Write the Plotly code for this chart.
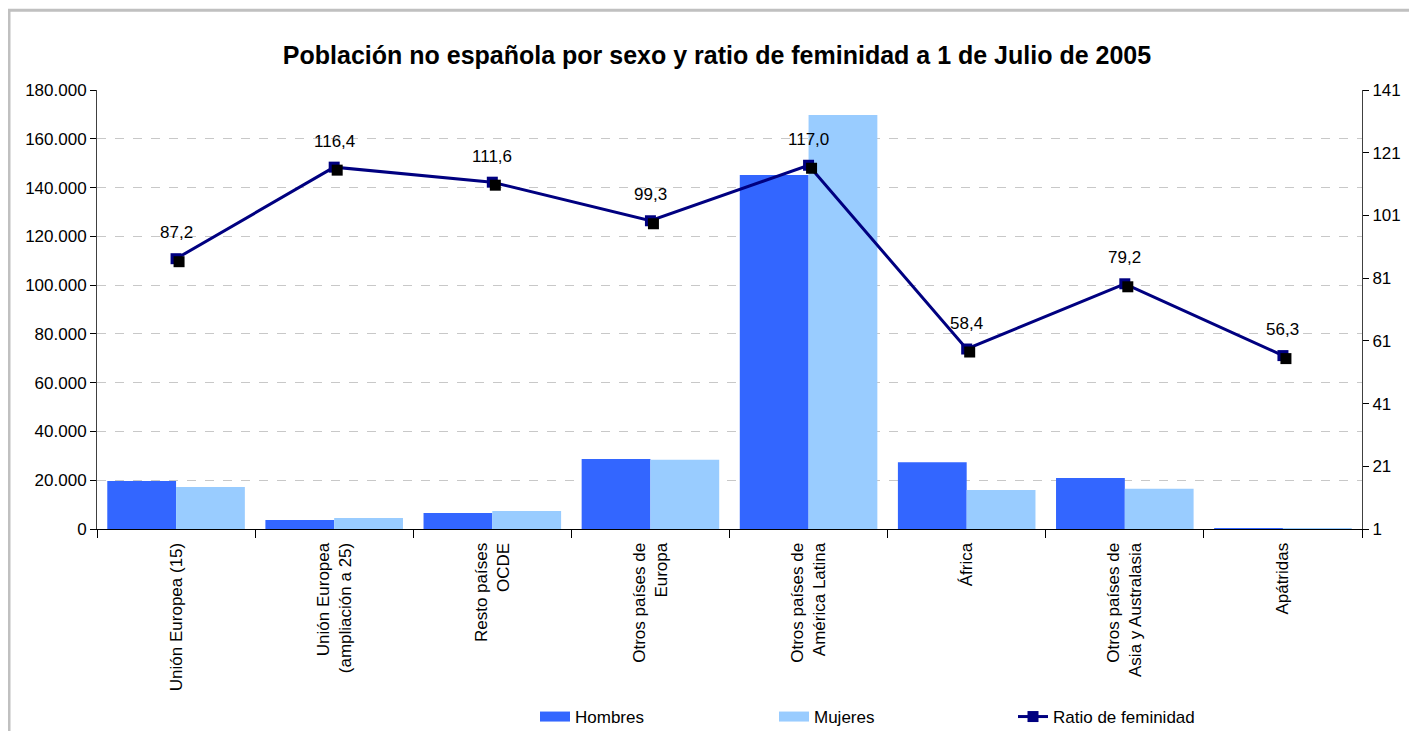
import plotly.graph_objects as go

categories = [
    "Unión Europea (15)",
    "Unión Europea<br>(ampliación a 25)",
    "Resto países<br>OCDE",
    "Otros países de<br>Europa",
    "Otros países de<br>América Latina",
    "África",
    "Otros países de<br>Asia y Australasia",
    "Apátridas",
]
hombres = [19700, 3700, 6600, 28700, 145100, 27400, 20900, 160]
mujeres = [17200, 4500, 7400, 28400, 169800, 16000, 16500, 90]
ratio = [87.2, 116.4, 111.6, 99.3, 117.0, 58.4, 79.2, 56.3]
left_ticks = [0, 20000, 40000, 60000, 80000, 100000, 120000, 140000, 160000, 180000]
right_ticks = [1, 21, 41, 61, 81, 101, 121, 141]

FONT = "Liberation Sans, Arial, sans-serif"
# page has an 8px body margin; figure coordinates are page minus 8
W, H = 1409, 723
ML, MR, MT, MB = 89, 55, 82, 202
PW, PH = W - ML - MR, H - MT - MB
BLUE, LIGHT, NAVY = "#3366FF", "#99CCFF", "#000080"

fig = go.Figure()
fig.add_trace(go.Bar(x=categories, y=hombres, name="Hombres", marker_color=BLUE,
                     marker_line_width=0, showlegend=False))
fig.add_trace(go.Bar(x=categories, y=mujeres, name="Mujeres", marker_color=LIGHT,
                     marker_line_width=0, showlegend=False))
# marker shadow on an offset overlay axis
fig.add_trace(go.Scatter(x=categories, y=ratio, mode="markers", xaxis="x3", yaxis="y3",
                         marker=dict(symbol="square", size=11, color="black"),
                         showlegend=False, hoverinfo="skip"))
fig.add_trace(go.Scatter(x=categories, y=ratio, name="Ratio de feminidad", yaxis="y2",
                         mode="lines+markers", showlegend=False,
                         line=dict(color=NAVY, width=3),
                         marker=dict(symbol="square", size=11, color=NAVY)))

# legend entries (rectangular swatches like the original)
fig.add_trace(go.Scatter(x=[None], y=[None], mode="lines", name="Hombres",
                         line=dict(color=BLUE, width=14)))
fig.add_trace(go.Scatter(x=[None], y=[None], mode="lines", name="Mujeres",
                         line=dict(color=LIGHT, width=14)))
fig.add_trace(go.Scatter(x=[None], y=[None], mode="lines+markers", name="Ratio de feminidad",
                         line=dict(color=NAVY, width=3),
                         marker=dict(symbol="square", size=11, color=NAVY)))

for c, r in zip(categories, ratio):
    fig.add_annotation(x=c, y=r, xref="x", yref="y2", text=f"{r:.1f}".replace(".", ","),
                       showarrow=False, yshift=26, font=dict(size=17, color="black", family=FONT))

# frame
fig.add_shape(type="rect", xref="paper", yref="paper",
              x0=(1 - ML) / PW, x1=(1440 - ML) / PW,
              y0=(MT + PH - 760) / PH, y1=1 + (MT - 2.3) / PH,
              line=dict(color="#C0C0C0", width=3), layer="below")

dx = 3 / PW * 8
dy = 3 / PH * 140
fig.update_layout(
    width=W, height=H,
    margin=dict(l=ML, r=MR, t=MT, b=MB, autoexpand=False),
    paper_bgcolor="white", plot_bgcolor="white",
    separators=",.",
    font=dict(family=FONT, size=17, color="black"),
    title=dict(text="<b>Población no española por sexo y ratio de feminidad a 1 de Julio de 2005</b>",
               font=dict(size=25, family=FONT, color="black"),
               x=(709 - ML) / PW, xref="paper", xanchor="center",
               y=1 - 47 / H, yref="container", yanchor="middle"),
    barmode="group", bargap=0.13, bargroupgap=0,
    xaxis=dict(type="category", tickson="boundaries", ticks="outside", ticklen=8,
               tickcolor="black", showline=True, linecolor="black", linewidth=1,
               tickangle=-90, tickfont=dict(size=17), showgrid=False,
               ticklabelstandoff=6, range=[-0.5, 7.5]),
    yaxis=dict(range=[0, 180000], tickvals=left_ticks, tickformat=",d", showline=True,
               linecolor="#404040", linewidth=1, ticks="outside", ticklen=6, tickcolor="black",
               showgrid=True, gridcolor="#C8C8C8", griddash="dash", gridwidth=1,
               zeroline=False, tickfont=dict(size=17)),
    yaxis2=dict(range=[1, 141], tickvals=right_ticks, overlaying="y", side="right",
                showline=True, linecolor="#404040", linewidth=1, ticks="outside", ticklen=6,
                tickcolor="black", showgrid=False, zeroline=False, tickfont=dict(size=17)),
    xaxis3=dict(type="category", overlaying="x", range=[-0.5 - dx, 7.5 - dx], visible=False,
                categoryorder="array", categoryarray=categories),
    yaxis3=dict(overlaying="y", range=[1 + dy, 141 + dy], visible=False),
    legend=dict(orientation="h", x=(527 - ML) / PW, xanchor="left",
                y=(MT + PH - 709) / PH, yanchor="middle",
                entrywidth=194, entrywidthmode="pixels",
                font=dict(size=17, family=FONT), bgcolor="rgba(0,0,0,0)"),
    showlegend=True,
)

fig.write_html("out.html")
